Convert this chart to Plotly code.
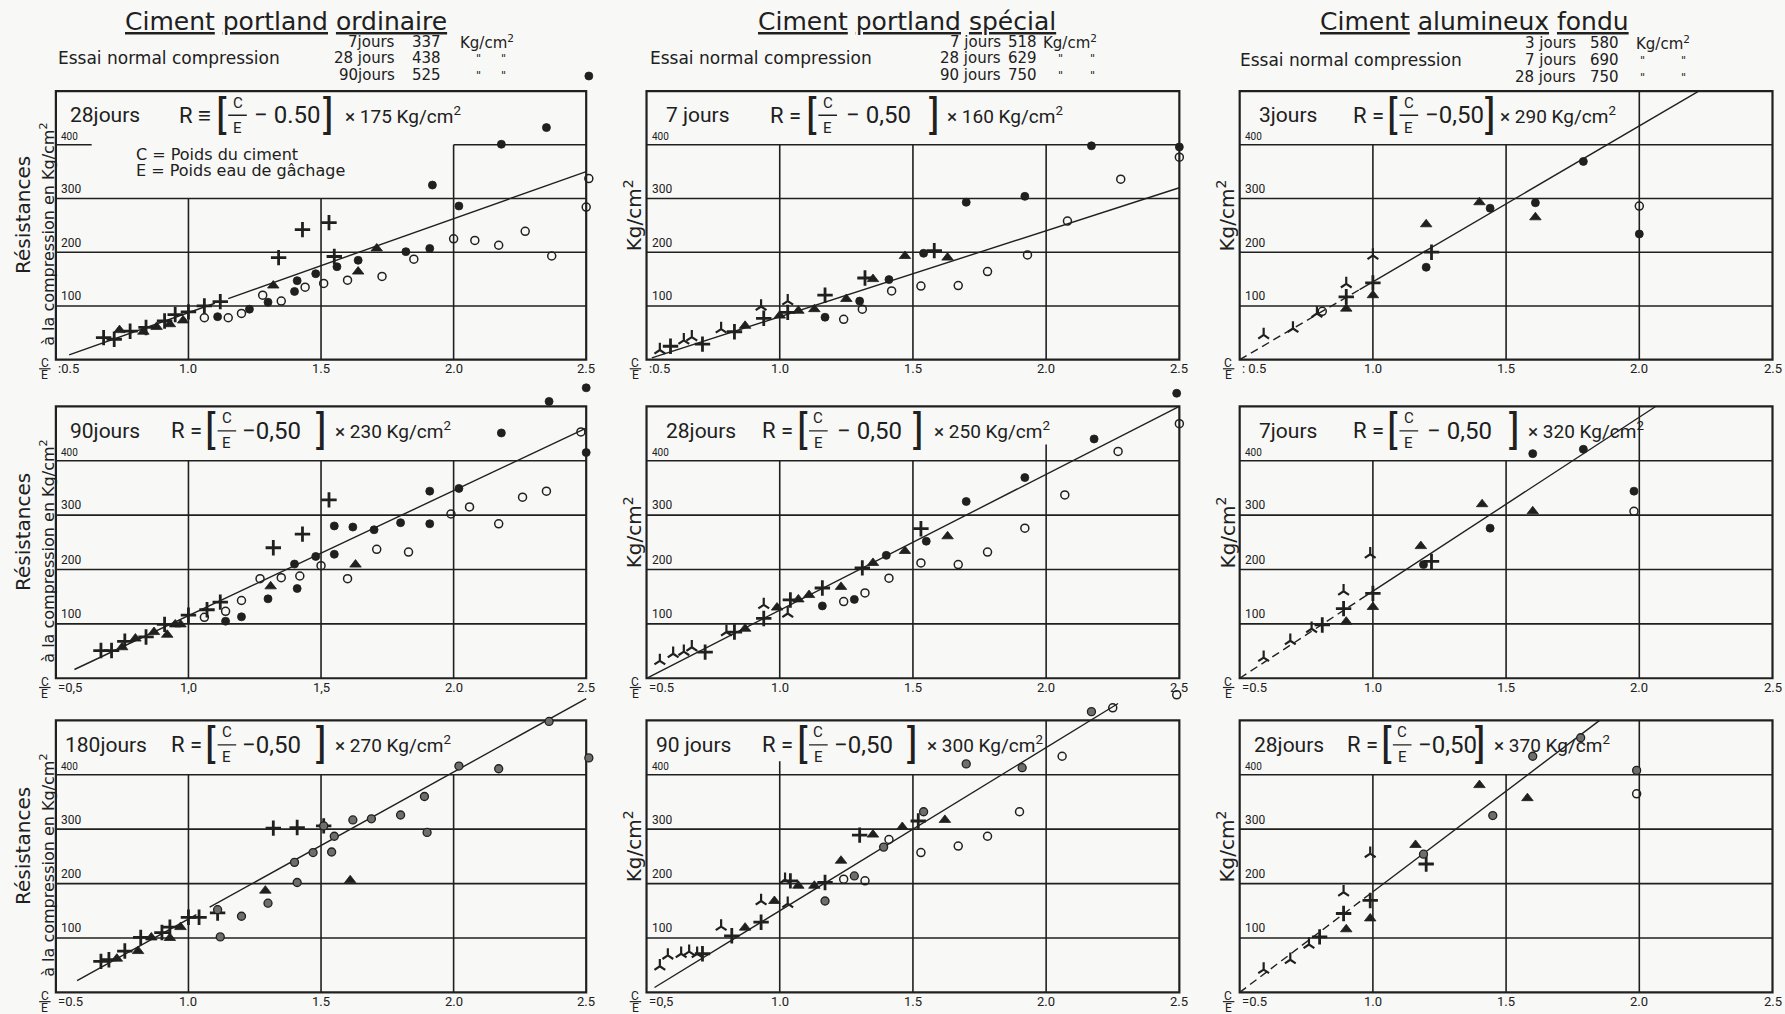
import plotly.graph_objects as go

# ============================ DATA ============================
COLUMN_TITLES = ["Ciment portland ordinaire", "Ciment portland spécial", "Ciment alumineux fondu"]
ESSAI_LABEL = "Essai normal compression"
ESSAI_DAYS = [["7jours", "28 jours", "90jours"],
              ["7 jours", "28 jours", "90 jours"],
              ["3 jours", "7 jours", "28 jours"]]
ESSAI_VALUES = [[337, 438, 525], [518, 629, 750], [580, 690, 750]]
ESSAI_UNIT = "Kg/cm<sup>2</sup>"
DITTO = "\""

PANEL_DAYS = [["28jours", "7 jours", "3jours"],
              ["90jours", "28jours", "7jours"],
              ["180jours", "90 jours", "28jours"]]
PANEL_COEF = [[175, 160, 290], [230, 250, 320], [270, 300, 370]]
PANEL_CONST = [["− 0.50", "− 0,50", "−0,50"], ["−0,50", "− 0,50", "− 0,50"], ["−0,50", "−0,50", "−0,50"]]
PANEL_RSIGN = [["R ≡", "R =", "R ="], ["R =", "R =", "R ="], ["R =", "R =", "R ="]]

Y_TICKS = [100, 200, 300, 400]
X_GRID = [1.0, 1.5, 2.0]
X_TICKS = [1.0, 1.5, 2.0, 2.5]
X_TICK_TEXT = [[["1.0", "1.5", "2.0", "2.5"], ["1.0", "1.5", "2.0", "2.5"], ["1.0", "1.5", "2.0", "2.5"]],
               [["1,0", "1,5", "2.0", "2.5"], ["1.0", "1.5", "2.0", "2.5"], ["1.0", "1.5", "2.0", "2.5"]],
               [["1.0", "1.5", "2.0", "2.5"], ["1.0", "1.5", "2.0", "2.5"], ["1.0", "1.5", "2.0", "2.5"]]]
X_ZERO_TEXT = [[":0.5", ":0.5", ": 0.5"], ["=0,5", "=0.5", "=0.5"], ["=0.5", "=0,5", "=0.5"]]
LEGEND_LINES = ["C = Poids du ciment", "E = Poids eau de gâchage"]

# ---- Panel (row 1, col 1): portland ordinaire, 28 jours ----
p11_plus_x = [0.68, 0.72, 0.78, 0.84, 0.91, 0.95, 1.00, 1.06, 1.12, 1.34, 1.43, 1.53, 1.55]
p11_plus_y = [41, 38, 53, 60, 72, 84, 89, 100, 108, 190, 242, 255, 192]
p11_tri_x = [0.74, 0.83, 0.88, 0.93, 0.98, 1.32, 1.64, 1.71]
p11_tri_y = [55, 52, 61, 66, 73, 138, 164, 207]
p11_fill_x = [1.11, 1.23, 1.30, 1.40, 1.41, 1.48, 1.56, 1.64, 1.82, 1.91, 1.92, 2.02, 2.18, 2.35, 2.51]
p11_fill_y = [80, 94, 107, 127, 147, 160, 173, 185, 201, 207, 325, 286, 401, 432, 528]
p11_open_x = [1.06, 1.15, 1.20, 1.28, 1.35, 1.44, 1.51, 1.60, 1.73, 1.85, 2.00, 2.08, 2.17, 2.27, 2.37, 2.51, 2.50]
p11_open_y = [78, 78, 86, 120, 109, 135, 142, 148, 155, 187, 225, 222, 213, 239, 193, 337, 284]
p11_lam_x = []
p11_lam_y = []

# ---- Panel (row 1, col 2): portland spécial, 7 jours ----
p12_lam_x = [0.55, 0.64, 0.67, 0.78, 0.93, 1.03]
p12_lam_y = [18, 36, 42, 57, 99, 109]
p12_plus_x = [0.59, 0.71, 0.83, 0.94, 1.03, 1.17, 1.32, 1.58]
p12_plus_y = [25, 29, 52, 77, 88, 120, 152, 203]
p12_tri_x = [0.87, 1.00, 1.07, 1.13, 1.25, 1.35, 1.47, 1.63]
p12_tri_y = [63, 82, 91, 94, 113, 150, 193, 190]
p12_fill_x = [1.17, 1.30, 1.41, 1.54, 1.70, 1.92, 2.17, 2.50]
p12_fill_y = [79, 109, 149, 198, 293, 304, 398, 396]
p12_open_x = [1.24, 1.31, 1.42, 1.53, 1.67, 1.78, 1.93, 2.08, 2.28, 2.50]
p12_open_y = [75, 94, 128, 137, 138, 164, 195, 258, 336, 377]

# ---- Panel (row 1, col 3): alumineux fondu, 3 jours ----
p13_lam_x = [0.59, 0.70, 0.79, 0.90, 1.00]
p13_lam_y = [46, 58, 86, 141, 194]
p13_plus_x = [0.90, 1.00, 1.22]
p13_plus_y = [117, 143, 200]
p13_tri_x = [0.90, 1.00, 1.20, 1.40, 1.61]
p13_tri_y = [95, 120, 252, 293, 265]
p13_fill_x = [1.20, 1.44, 1.61, 1.79, 2.00]
p13_fill_y = [172, 282, 292, 369, 234]
p13_open_x = [0.81, 2.00]
p13_open_y = [90, 286]

# ---- Panel (row 2, col 1): portland ordinaire, 90 jours ----
p21_plus_x = [0.67, 0.71, 0.76, 0.84, 0.91, 1.00, 1.07, 1.12, 1.32, 1.43, 1.53]
p21_plus_y = [51, 51, 68, 76, 99, 116, 126, 140, 240, 265, 328]
p21_tri_x = [0.75, 0.80, 0.87, 0.92, 0.95, 0.97, 1.31, 1.63]
p21_tri_y = [57, 73, 85, 80, 99, 99, 169, 209]
p21_fill_x = [1.14, 1.20, 1.30, 1.40, 1.41, 1.48, 1.55, 1.55, 1.62, 1.70, 1.80, 1.91, 1.91, 2.02, 2.18, 2.36, 2.50, 2.50]
p21_fill_y = [105, 113, 146, 210, 165, 224, 280, 228, 278, 273, 286, 344, 284, 349, 451, 509, 534, 415]
p21_open_x = [1.06, 1.14, 1.20, 1.27, 1.35, 1.42, 1.50, 1.60, 1.71, 1.83, 1.99, 2.06, 2.17, 2.26, 2.35, 2.48]
p21_open_y = [112, 123, 143, 183, 185, 188, 207, 183, 237, 232, 302, 315, 284, 333, 344, 453]
p21_lam_x = []
p21_lam_y = []

# ---- Panel (row 2, col 2): portland spécial, 28 jours ----
p22_lam_x = [0.55, 0.60, 0.64, 0.67, 0.80, 0.94, 1.03]
p22_lam_y = [32, 45, 49, 57, 85, 135, 119]
p22_plus_x = [0.72, 0.83, 0.94, 1.04, 1.16, 1.31, 1.53]
p22_plus_y = [48, 85, 110, 144, 166, 203, 275]
p22_tri_x = [0.87, 0.99, 1.07, 1.11, 1.23, 1.35, 1.47, 1.63]
p22_tri_y = [91, 130, 145, 153, 168, 212, 234, 261]
p22_fill_x = [1.16, 1.28, 1.40, 1.55, 1.70, 1.92, 2.18, 2.49]
p22_fill_y = [133, 145, 226, 252, 325, 369, 440, 524]
p22_open_x = [1.24, 1.32, 1.41, 1.53, 1.67, 1.78, 1.92, 2.07, 2.27, 2.50]
p22_open_y = [141, 157, 184, 212, 209, 232, 276, 337, 417, 468]

# ---- Panel (row 2, col 3): alumineux fondu, 7 jours ----
p23_lam_x = [0.59, 0.69, 0.77, 0.89, 0.99]
p23_lam_y = [38, 69, 91, 160, 228]
p23_plus_x = [0.81, 0.89, 1.00, 1.22]
p23_plus_y = [98, 128, 156, 215]
p23_tri_x = [0.90, 1.00, 1.18, 1.41, 1.60]
p23_tri_y = [104, 131, 243, 320, 307]
p23_fill_x = [1.19, 1.44, 1.60, 1.79, 1.98]
p23_fill_y = [209, 276, 413, 421, 344]
p23_open_x = [1.98]
p23_open_y = [307]

# ---- Panel (row 3, col 1): portland ordinaire, 180 jours ----
p31_plus_x = [0.67, 0.70, 0.76, 0.82, 0.90, 0.93, 1.00, 1.04, 1.11, 1.32, 1.41, 1.51]
p31_plus_y = [57, 60, 76, 101, 110, 120, 138, 138, 146, 302, 303, 306]
p31_tri_x = [0.73, 0.81, 0.86, 0.93, 0.97, 1.29, 1.61]
p31_tri_y = [62, 76, 101, 100, 120, 187, 206]
p31_fill_x = [1.11, 1.12, 1.20, 1.30, 1.40, 1.41, 1.47, 1.51, 1.54, 1.55, 1.62, 1.69, 1.80, 1.89, 1.90, 2.02, 2.17, 2.36, 2.51]
p31_fill_y = [152, 102, 140, 164, 239, 202, 257, 306, 258, 287, 317, 319, 326, 360, 294, 416, 411, 498, 431]
p31_open_x = []
p31_open_y = []
p31_lam_x = []
p31_lam_y = []

# ---- Panel (row 3, col 2): portland spécial, 90 jours ----
p32_lam_x = [0.55, 0.58, 0.63, 0.66, 0.69, 0.78, 0.93, 1.02, 1.03]
p32_lam_y = [48, 68, 71, 75, 71, 121, 168, 207, 163]
p32_plus_x = [0.71, 0.82, 0.93, 1.04, 1.17, 1.30, 1.52]
p32_plus_y = [71, 104, 129, 205, 202, 289, 315]
p32_tri_x = [0.87, 0.98, 1.07, 1.13, 1.23, 1.35, 1.46, 1.62]
p32_tri_y = [119, 168, 196, 196, 242, 290, 304, 317]
p32_fill_x = [1.17, 1.28, 1.39, 1.54, 1.70, 1.91, 2.17]
p32_fill_y = [168, 214, 267, 332, 420, 413, 516]
p32_open_x = [1.24, 1.32, 1.41, 1.53, 1.67, 1.78, 1.90, 2.06, 2.25, 2.49]
p32_open_y = [208, 205, 281, 257, 269, 287, 332, 434, 523, 547]

# ---- Panel (row 3, col 3): alumineux fondu, 28 jours ----
p33_lam_x = [0.59, 0.69, 0.76, 0.89, 0.99]
p33_lam_y = [42, 60, 88, 184, 255]
p33_plus_x = [0.80, 0.89, 0.99, 1.20]
p33_plus_y = [102, 145, 169, 236]
p33_tri_x = [0.90, 0.99, 1.16, 1.40, 1.58]
p33_tri_y = [116, 136, 271, 381, 357]
p33_fill_x = [1.19, 1.45, 1.60, 1.78, 1.99]
p33_fill_y = [254, 325, 434, 468, 408]
p33_open_x = [1.99]
p33_open_y = [365]

PANEL_SERIES = {
    (0, 0): {"lam": (p11_lam_x, p11_lam_y), "plus": (p11_plus_x, p11_plus_y), "tri": (p11_tri_x, p11_tri_y),
             "fill": (p11_fill_x, p11_fill_y), "open": (p11_open_x, p11_open_y)},
    (0, 1): {"lam": (p12_lam_x, p12_lam_y), "plus": (p12_plus_x, p12_plus_y), "tri": (p12_tri_x, p12_tri_y),
             "fill": (p12_fill_x, p12_fill_y), "open": (p12_open_x, p12_open_y)},
    (0, 2): {"lam": (p13_lam_x, p13_lam_y), "plus": (p13_plus_x, p13_plus_y), "tri": (p13_tri_x, p13_tri_y),
             "fill": (p13_fill_x, p13_fill_y), "open": (p13_open_x, p13_open_y)},
    (1, 0): {"lam": (p21_lam_x, p21_lam_y), "plus": (p21_plus_x, p21_plus_y), "tri": (p21_tri_x, p21_tri_y),
             "fill": (p21_fill_x, p21_fill_y), "open": (p21_open_x, p21_open_y)},
    (1, 1): {"lam": (p22_lam_x, p22_lam_y), "plus": (p22_plus_x, p22_plus_y), "tri": (p22_tri_x, p22_tri_y),
             "fill": (p22_fill_x, p22_fill_y), "open": (p22_open_x, p22_open_y)},
    (1, 2): {"lam": (p23_lam_x, p23_lam_y), "plus": (p23_plus_x, p23_plus_y), "tri": (p23_tri_x, p23_tri_y),
             "fill": (p23_fill_x, p23_fill_y), "open": (p23_open_x, p23_open_y)},
    (2, 0): {"lam": (p31_lam_x, p31_lam_y), "plus": (p31_plus_x, p31_plus_y), "tri": (p31_tri_x, p31_tri_y),
             "fill": (p31_fill_x, p31_fill_y), "open": (p31_open_x, p31_open_y)},
    (2, 1): {"lam": (p32_lam_x, p32_lam_y), "plus": (p32_plus_x, p32_plus_y), "tri": (p32_tri_x, p32_tri_y),
             "fill": (p32_fill_x, p32_fill_y), "open": (p32_open_x, p32_open_y)},
    (2, 2): {"lam": (p33_lam_x, p33_lam_y), "plus": (p33_plus_x, p33_plus_y), "tri": (p33_tri_x, p33_tri_y),
             "fill": (p33_fill_x, p33_fill_y), "open": (p33_open_x, p33_open_y)},
}

# ============================ STYLE / LAYOUT ============================
INK = "#202020"
PAPER = "#f8f8f6"
FONT = "Roboto, 'Open Sans', sans-serif"
FONT_WIDE = "'DejaVu Sans', Roboto, sans-serif"

BOX_X = [(0.0313, 0.3284), (0.3622, 0.6607), (0.6945, 0.9930)]
BOX_Y = [(0.6453, 0.9102), (0.3311, 0.5993), (0.0213, 0.2896)]
BOX_XR = (0.5, 2.5)
BOX_YR = (0, 500)
X_RANGE = [(0.40, 2.60), (0.40, 2.60), (0.40, 2.52)]
Y_RANGE = (-8, 560)

# regression line pieces: (x start, x end, dash)
LINE_SEGS = {
    (0, 0): [(0.55, 1.10, "solid"), (1.15, 2.50, "solid")],
    (0, 1): [(0.52, 2.50, "solid")],
    (0, 2): [(0.50, 0.95, "dash"), (0.95, 2.22, "solid")],
    (1, 0): [(0.57, 2.50, "solid")],
    (1, 1): [(0.50, 2.50, "solid")],
    (1, 2): [(0.50, 0.95, "dash"), (0.95, 2.06, "solid")],
    (2, 0): [(0.58, 1.03, "solid"), (1.08, 2.50, "solid")],
    (2, 1): [(0.53, 2.27, "solid")],
    (2, 2): [(0.50, 1.00, "dash"), (1.00, 1.85, "solid")],
}
# top of the vertical grid lines at 1.0, 1.5, 2.0
VLINE_TOP = {
    (0, 0): [300, 300, 400], (0, 1): [400, 400, 400], (0, 2): [400, 400, 500],
    (1, 0): [400, 400, 400], (1, 1): [400, 400, 430], (1, 2): [400, 400, 500],
    (2, 0): [400, 400, 400], (2, 1): [425, 400, 500], (2, 2): [400, 400, 500],
}
HLINE_400_SEGS = {(0, 0): [(0.5, 0.635), (2.0, 2.5)]}
# formula piece positions: days, R, "[", const, "]", coef   (fraction sits at "[" + FRAC_OFF)
FORM_POS = {
    (0, 0): [0.55, 0.96, 1.125, 1.245, 1.53, 1.585],
    (0, 1): [0.57, 0.96, 1.12, 1.245, 1.58, 1.625],
    (0, 2): [0.57, 0.92, 1.075, 1.19, 1.44, 1.475],
    (1, 0): [0.55, 0.93, 1.085, 1.20, 1.50, 1.55],
    (1, 1): [0.57, 0.93, 1.085, 1.21, 1.52, 1.575],
    (1, 2): [0.57, 0.92, 1.075, 1.20, 1.53, 1.58],
    (2, 0): [0.53, 0.93, 1.085, 1.20, 1.50, 1.55],
    (2, 1): [0.53, 0.93, 1.085, 1.20, 1.50, 1.55],
    (2, 2): [0.55, 0.90, 1.05, 1.165, 1.405, 1.45],
}
FRAC_OFF = 0.06
FORM_Y = 455

MARKERS = {
    "lam": dict(symbol="y-up", size=9, color=INK, line=dict(color=INK, width=2.2)),
    "plus": dict(symbol="cross-thin", size=11, color=INK, line=dict(color=INK, width=2.8)),
    "tri": dict(symbol="triangle-up", size=10, color=INK, line=dict(color=INK, width=0.8)),
    "fill": dict(symbol="circle", size=8, color=INK, line=dict(color=INK, width=0.8)),
    "open": dict(symbol="circle-open", size=8, color=INK, line=dict(color=INK, width=1.5)),
}
FILL_ROW3 = "#6e6e6e"


def xdomain(c):
    b0, b1 = BOX_X[c]
    r0, r1 = X_RANGE[c]
    w = (b1 - b0) / (BOX_XR[1] - BOX_XR[0])
    return [b0 + (r0 - BOX_XR[0]) * w, b0 + (r1 - BOX_XR[0]) * w]


def ydomain(r):
    b0, b1 = BOX_Y[r]
    h = (b1 - b0) / (BOX_YR[1] - BOX_YR[0])
    return [b0 + (Y_RANGE[0] - BOX_YR[0]) * h, b0 + (Y_RANGE[1] - BOX_YR[0]) * h]


def to_paper(r, c, x, y):
    xd = xdomain(c)
    yd = ydomain(r)
    px = xd[0] + (x - X_RANGE[c][0]) / (X_RANGE[c][1] - X_RANGE[c][0]) * (xd[1] - xd[0])
    py = yd[0] + (y - Y_RANGE[0]) / (Y_RANGE[1] - Y_RANGE[0]) * (yd[1] - yd[0])
    return px, py


fig = go.Figure()
axes = {}
shapes = []
annotations = []


def ann(text, x, y, xref="paper", yref="paper", size=14, xanchor="center", yanchor="middle", angle=0, family=FONT):
    annotations.append(dict(text=text, x=x, y=y, xref=xref, yref=yref, showarrow=False,
                            font=dict(family=family, size=size, color=INK),
                            xanchor=xanchor, yanchor=yanchor, textangle=angle, borderpad=0))


def pann(r, c, text, x, y, **kw):
    px, py = to_paper(r, c, x, y)
    ann(text, px, py, **kw)


def line(x0, y0, x1, y1, xref, yref, width=1.5, dash="solid"):
    shapes.append(dict(type="line", x0=x0, y0=y0, x1=x1, y1=y1, xref=xref, yref=yref,
                       line=dict(color=INK, width=width, dash=dash), layer="below"))


for r in range(3):
    for c in range(3):
        i = r * 3 + c + 1
        xa = "x" if i == 1 else f"x{i}"
        ya = "y" if i == 1 else f"y{i}"
        axes["xaxis" if i == 1 else f"xaxis{i}"] = dict(domain=xdomain(c), range=list(X_RANGE[c]), anchor=ya,
                                                        visible=False, fixedrange=True)
        axes["yaxis" if i == 1 else f"yaxis{i}"] = dict(domain=ydomain(r), range=list(Y_RANGE), anchor=xa,
                                                        visible=False, fixedrange=True)
        key = (r, c)

        # frame
        shapes.append(dict(type="rect", xref=xa, yref=ya, x0=BOX_XR[0], x1=BOX_XR[1], y0=BOX_YR[0], y1=BOX_YR[1],
                           line=dict(color=INK, width=2.2), layer="below"))
        # horizontal grid + inside labels
        for v in Y_TICKS:
            segs = HLINE_400_SEGS.get(key, [(BOX_XR[0], BOX_XR[1])]) if v == 400 else [(BOX_XR[0], BOX_XR[1])]
            for s0, s1 in segs:
                line(s0, v, s1, v, xa, ya, width=1.6)
            ann(str(v), BOX_XR[0] + 0.015, v + 3, xa, ya, size=12 if v < 400 else 10,
                xanchor="left", yanchor="bottom")
        # vertical grid
        for xv, top in zip(X_GRID, VLINE_TOP[key]):
            line(xv, 0, xv, top, xa, ya, width=1.6)

        # regression line R = (C/E - 0.5) * k
        k = PANEL_COEF[r][c]
        for x0, x1, dash in LINE_SEGS[key]:
            fig.add_trace(go.Scatter(x=[x0, x1], y=[k * (x0 - 0.5), k * (x1 - 0.5)], mode="lines",
                                     line=dict(color=INK, width=1.4, dash="8px,5px" if dash == "dash" else "solid"),
                                     xaxis=xa, yaxis=ya, showlegend=False, hoverinfo="skip"))
        # measured points
        for name, (xs, ys) in PANEL_SERIES[key].items():
            if not xs:
                continue
            m = dict(MARKERS[name])
            if name == "fill" and r == 2:
                m = dict(m, color=FILL_ROW3, line=dict(color=INK, width=1.3))
            fig.add_trace(go.Scatter(x=xs, y=ys, mode="markers", marker=m, xaxis=xa, yaxis=ya,
                                     showlegend=False, hoverinfo="skip", cliponaxis=False))

        # formula
        p = FORM_POS[key]
        fx = p[2] + FRAC_OFF
        ann(PANEL_DAYS[r][c], p[0], FORM_Y, xa, ya, size=21, xanchor="left")
        ann(PANEL_RSIGN[r][c], p[1], FORM_Y, xa, ya, size=22, xanchor="left")
        ann("[", p[2], FORM_Y, xa, ya, size=40)
        ann("C", fx, FORM_Y + 23, xa, ya, size=15)
        ann("E", fx, FORM_Y - 23, xa, ya, size=15)
        line(fx - 0.035, FORM_Y, fx + 0.035, FORM_Y, xa, ya, width=1.3)
        ann(PANEL_CONST[r][c], p[3], FORM_Y, xa, ya, size=24, xanchor="left")
        ann("]", p[4], FORM_Y, xa, ya, size=40)
        ann(f"× {k} Kg/cm<sup>2</sup>", p[5], FORM_Y, xa, ya, size=19, xanchor="left")

        # x tick labels (below the frame, in paper coordinates)
        for xv, t in zip(X_TICKS, X_TICK_TEXT[r][c]):
            pann(r, c, t, xv, -17, size=13)
        pann(r, c, X_ZERO_TEXT[r][c], BOX_XR[0] + 0.005, -17, size=13, xanchor="left")
        pann(r, c, "C", 0.458, -6, size=12)
        pann(r, c, "E", 0.458, -29, size=12)
        bx0, by = to_paper(r, c, 0.437, -17)
        bx1, _ = to_paper(r, c, 0.480, -17)
        line(bx0, by, bx1, by, "paper", "paper", width=1.2)

        # y axis titles
        yc = (BOX_Y[r][0] + BOX_Y[r][1]) / 2
        if c == 0:
            ann("Résistances", 0.0128, yc + 0.010, size=20, angle=-90, family=FONT_WIDE)
            ann("à la compression en Kg/cm<sup>2</sup>", 0.0265, yc - 0.009, size=16, angle=-90, family=FONT_WIDE)
        else:
            ann("Kg/cm<sup>2</sup>", BOX_X[c][0] - 0.0075, yc + 0.01, size=20, angle=-90, family=FONT_WIDE)

# in-panel legend of the first plot
ann(LEGEND_LINES[0], 0.80, 382, "x", "y", size=16, xanchor="left", family=FONT_WIDE)
ann(LEGEND_LINES[1], 0.80, 352, "x", "y", size=16, xanchor="left", family=FONT_WIDE)

# column headers
TITLE_X = [0.160, 0.508, 0.826]
ESSAI_X = [0.032, 0.3637, 0.694]
DAYS_RIGHT = [0.2219, 0.5616, 0.8835]
VAL_LEFT = [0.2304, 0.5640, 0.8900]
UNIT_LEFT = [0.2570, 0.5840, 0.9160]
DITTO_X = [(0.2680, 0.2820), (0.5940, 0.6120), (0.9200, 0.9430)]
LINE_Y = [[0.9585, 0.9428, 0.9259], [0.9585, 0.9428, 0.9259], [0.9574, 0.9405, 0.9237]]
for c in range(3):
    words = COLUMN_TITLES[c].split(" ")
    ann(" ".join(f"<u>{w}</u>" for w in words), TITLE_X[c], 0.979, size=25, family=FONT_WIDE)
    ann(ESSAI_LABEL, ESSAI_X[c], LINE_Y[c][1], size=17, xanchor="left", family=FONT_WIDE)
    for j in range(3):
        ann(ESSAI_DAYS[c][j], DAYS_RIGHT[c], LINE_Y[c][j], size=15, xanchor="right", family=FONT_WIDE)
        ann(str(ESSAI_VALUES[c][j]), VAL_LEFT[c], LINE_Y[c][j], size=15, xanchor="left", family=FONT_WIDE)
        if j == 0:
            ann(ESSAI_UNIT, UNIT_LEFT[c], LINE_Y[c][j], size=15, xanchor="left", family=FONT_WIDE)
        else:
            for dx in DITTO_X[c]:
                ann(DITTO, dx, LINE_Y[c][j], size=11, family=FONT_WIDE)

fig.update_layout(
    width=1785, height=1014,
    margin=dict(l=0, r=0, t=0, b=0),
    paper_bgcolor=PAPER, plot_bgcolor="rgba(0,0,0,0)",
    shapes=shapes, annotations=annotations, showlegend=False,
    font=dict(family=FONT, color=INK),
    **axes,
)

fig.write_html("out.html", include_plotlyjs=True, full_html=True,
               config={"displayModeBar": False, "staticPlot": True},
               post_script="document.body.style.margin='0';document.body.style.overflow='hidden';")
